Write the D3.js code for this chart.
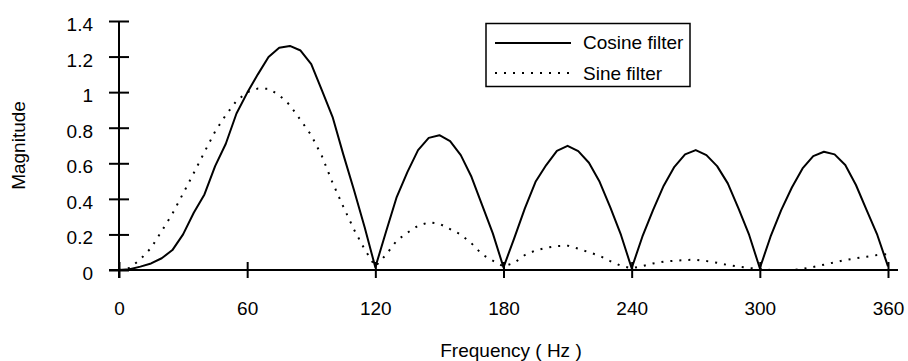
<!DOCTYPE html>
<html>
<head>
<meta charset="utf-8">
<script src="https://cdn.jsdelivr.net/npm/d3@7"></script>
<style>
  body { margin: 0; background: #fff; }
  svg text { font-family: "Liberation Sans", Arial, sans-serif; fill: #000; }
</style>
</head>
<body>
<div id="chart"></div>
<script>

// frequency samples (Hz)
var freqs = [0, 5, 10, 15, 20, 25, 30, 35, 40, 45, 50, 55, 60, 65, 70, 75, 80, 85, 90, 95,
  100, 105, 110, 115, 120, 125, 130, 135, 140, 145, 150, 155, 160, 165, 170, 175, 180,
  185, 190, 195, 200, 205, 210, 215, 220, 225, 230, 235, 240, 245, 250, 255, 260, 265,
  270, 275, 280, 285, 290, 295, 300, 305, 310, 315, 320, 325, 330, 335, 340, 345, 350,
  355, 360];

var cosine = [0, 0.004, 0.019, 0.037, 0.066, 0.112, 0.2, 0.322, 0.425, 0.584, 0.71, 0.88,
  0.996, 1.10, 1.198, 1.25, 1.26, 1.234, 1.158, 1.01, 0.86, 0.65, 0.45, 0.24, 0.015,
  0.215, 0.41, 0.55, 0.674, 0.743, 0.758, 0.725, 0.646, 0.524, 0.365, 0.206, 0.015,
  0.178, 0.346, 0.496, 0.59, 0.67, 0.698, 0.668, 0.603, 0.496, 0.352, 0.197, 0.01,
  0.187, 0.337, 0.474, 0.58, 0.65, 0.674, 0.646, 0.584, 0.487, 0.346, 0.197, 0.01,
  0.187, 0.337, 0.464, 0.571, 0.64, 0.665, 0.65, 0.59, 0.478, 0.337, 0.197, 0.02];

var sine = [0, 0.012, 0.06, 0.124, 0.219, 0.316, 0.43, 0.545, 0.663, 0.779, 0.871, 0.951,
  1.0, 1.02, 1.019, 0.983, 0.927, 0.843, 0.758, 0.64, 0.49, 0.356, 0.228, 0.116, 0.02,
  0.086, 0.165, 0.21, 0.249, 0.268, 0.26, 0.23, 0.2, 0.15, 0.088, 0.052, 0.02,
  0.04, 0.084, 0.11, 0.125, 0.135, 0.137, 0.12, 0.1, 0.08, 0.05, 0.024, 0.01,
  0.022, 0.037, 0.047, 0.052, 0.056, 0.058, 0.05, 0.041, 0.028, 0.019, 0.011, 0.006,
  0, 0, 0, 0.006, 0.017, 0.03, 0.043, 0.056, 0.066, 0.075, 0.084, 0.09];

var xTicks = [0, 60, 120, 180, 240, 300, 360];
var yTicks = [0, 0.2, 0.4, 0.6, 0.8, 1, 1.2, 1.4];

var seriesNames = ["Cosine filter", "Sine filter"];

var width = 908, height = 361;

var svg = d3.select("#chart").append("svg")
  .attr("width", width)
  .attr("height", height);

var x = d3.scaleLinear().domain([0, 360]).range([119, 888]);
var y = d3.scaleLinear().domain([0, 1.4]).range([270, 21]);

//Axes - ticks cross the axis line on both sides
var yAxis = svg.append("g")
  .attr("transform", "translate(" + x(0) + ",0)")
  .call(d3.axisLeft(y).tickValues(yTicks).tickSize(10).tickPadding(16).tickFormat(d3.format("~g")));

yAxis.select(".domain").remove();
yAxis.selectAll(".tick line").attr("x1", 10).attr("stroke-width", 2);
yAxis.selectAll(".tick text")
  .attr("dy", "0.5em")
  .style("font-size", "19px");

var xAxis = svg.append("g")
  .attr("transform", "translate(0," + y(0) + ")")
  .call(d3.axisBottom(x).tickValues(xTicks).tickSize(8).tickPadding(37));

xAxis.select(".domain").remove();
xAxis.selectAll(".tick line").attr("y1", -8).attr("stroke-width", 2);
xAxis.selectAll(".tick text")
  .attr("dy", "0")
  .style("font-size", "19px");

svg.append("line")
  .attr("x1", x(0) - 10).attr("x2", x(360) + 10)
  .attr("y1", y(0)).attr("y2", y(0))
  .attr("stroke", "#000").attr("stroke-width", 2);

svg.append("line")
  .attr("x1", x(0)).attr("x2", x(0))
  .attr("y1", y(1.4)).attr("y2", y(0) + 8)
  .attr("stroke", "#000").attr("stroke-width", 2);

//Axis titles
svg.append("text")
  .attr("x", 511)
  .attr("y", 357)
  .style("text-anchor", "middle")
  .style("font-size", "19px")
  .text("Frequency ( Hz )");

svg.append("text")
  .attr("transform", "translate(25," + ((y(0) + y(1.4)) / 2) + ") rotate(-90)")
  .style("text-anchor", "middle")
  .style("font-size", "19px")
  .text("Magnitude");

//Lines
var line = d3.line()
  .x(function(d) { return x(d[0]); })
  .y(function(d) { return y(d[1]); });

svg.append("path")
  .datum(d3.zip(freqs, cosine))
  .attr("d", line)
  .attr("fill", "none")
  .attr("stroke", "#000")
  .attr("stroke-width", 2)
  .attr("stroke-linejoin", "round");

svg.append("path")
  .datum(d3.zip(freqs, sine))
  .attr("d", line)
  .attr("fill", "none")
  .attr("stroke", "#000")
  .attr("stroke-width", 2)
  .attr("stroke-dasharray", "2 7");

//Legend
var legend = svg.append("g");

legend.append("rect")
  .attr("x", 486).attr("y", 23.5)
  .attr("width", 204).attr("height", 63)
  .attr("fill", "#fff")
  .attr("stroke", "#000")
  .attr("stroke-width", 1.5);

var rows = legend.selectAll(".row")
  .data(seriesNames)
  .enter().append("g")
  .attr("class", "row")
  .attr("transform", function(d, i) { return "translate(0," + (i * 30) + ")"; });

rows.append("line")
  .attr("x1", 495).attr("x2", 571)
  .attr("y1", 43).attr("y2", 43)
  .attr("stroke", "#000")
  .attr("stroke-width", 2)
  .attr("stroke-dasharray", function(d, i) { return i === 1 ? "2 7" : null; });

rows.append("text")
  .attr("x", 583)
  .attr("y", function(d, i) { return 49 + i; })
  .style("font-size", "19px")
  .text(function(d) { return d; });

</script>
</body>
</html>
